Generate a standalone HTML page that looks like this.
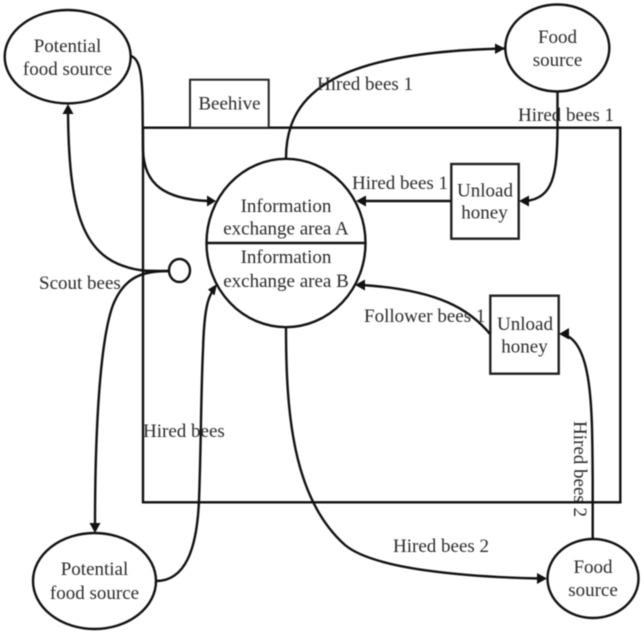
<!DOCTYPE html>
<html><head><meta charset="utf-8">
<style>html,body{margin:0;padding:0;background:#fff}svg{display:block;filter:blur(.45px)}
text{font-family:"Liberation Serif",serif;font-size:19px;fill:#2a2a2a}
.m{text-anchor:middle}
.s{fill:none;stroke:#111;stroke-width:2.4}
.a{fill:#111;stroke:none}</style></head><body>
<svg width="644" height="634" viewBox="0 0 644 634" xmlns="http://www.w3.org/2000/svg">
<rect class="s" x="143" y="127.7" width="477.3" height="374.6"/>
<rect x="190" y="79.7" width="78.7" height="48" fill="#fff" stroke="#222" stroke-width="2"/>
<rect x="451.3" y="164" width="67.4" height="74.7" fill="#fff" stroke="#222" stroke-width="2.4"/>
<rect x="490.3" y="295.7" width="68.4" height="78" fill="#fff" stroke="#222" stroke-width="2.4"/>
<ellipse class="s" cx="67.7" cy="56.7" rx="63" ry="46.7"/>
<ellipse class="s" cx="557.3" cy="48" rx="52" ry="43.500"/>
<ellipse class="s" cx="94.500" cy="581" rx="61.500" ry="48"/>
<ellipse class="s" cx="593" cy="578.500" rx="45.500" ry="39.500"/>
<ellipse class="s" cx="286" cy="243" rx="79.500" ry="84.200"/>
<line class="s" x1="206.500" y1="243" x2="365.500" y2="243"/>
<ellipse class="s" cx="179.500" cy="270.500" rx="10.500" ry="11.500"/>

<path class="s" d="M131 56C140 59 142 75 142.500 100L143 150C144 185 165 199 208 201"/>
<path class="a" d="M216 201L207 195.500V206.500Z"/>
<path class="s" d="M169 271C155 271 147 271 143 270.500C85 263 69 220 68 112"/>
<path class="a" d="M68 104L62.500 114H73.500Z"/>
<path class="s" d="M169 271C145 271 125 275 113 305C100 340 95 430 95 526"/>
<path class="a" d="M95 533L89.500 523H100.500Z"/>
<path class="s" d="M156 581C185 581 197 550 199 500C201 450 201 390 203 350C204 315 207 298 213 291"/>
<path class="a" d="M217 284L208 289.500L214.500 295.500Z"/>
<path class="s" d="M286 158C286 90 340 52 505 48.500"/>
<path class="a" d="M505 48.500L495 43.500V54Z"/>
<path class="s" d="M557.500 92V130C557 175 553 198 526 201"/>
<path class="a" d="M519 201L529 195.500V206.500Z"/>
<path class="s" d="M451 201H362"/>
<path class="a" d="M356 201L366 195.500V206.500Z"/>
<path class="s" d="M490 334C470 310 440 290 362 285"/>
<path class="a" d="M355 285L365 279.500V290.500Z"/>
<path class="s" d="M592.700 539V480C592 420 594 345 565 335"/>
<path class="a" d="M559 334L569 328V339.500Z"/>
<path class="s" d="M286 327C286 410 292 498 345 545C375 570 470 577 540 578.500"/>
<path class="a" d="M547 578.500L537 573V584Z"/>

<text class="m" x="67.500" y="52">Potential</text>
<text class="m" x="67.500" y="75">food source</text>
<text class="m" x="229.500" y="109.500">Beehive</text>
<text class="m" x="557.500" y="43">Food</text>
<text class="m" x="557.500" y="66">source</text>
<text x="317" y="90">Hired bees 1</text>
<text x="518" y="121">Hired bees 1</text>
<text x="352" y="189">Hired bees 1</text>
<text class="m" x="485" y="196.500">Unload</text>
<text class="m" x="484.500" y="218.500">honey</text>
<text class="m" x="286" y="212">Information</text>
<text class="m" x="286" y="234.500">exchange area A</text>
<text class="m" x="286" y="263">Information</text>
<text class="m" x="286" y="287">exchange area B</text>
<text x="39" y="289">Scout bees</text>
<text x="364" y="322">Follower bees 1</text>
<text class="m" x="525" y="330">Unload</text>
<text class="m" x="524.500" y="352.500">honey</text>
<text x="143" y="437">Hired bees</text>
<text x="393" y="552">Hired bees 2</text>
<text transform="translate(574 421) rotate(90)">Hired bees 2</text>
<text class="m" x="94.500" y="575">Potential</text>
<text class="m" x="94.500" y="599">food source</text>
<text class="m" x="593" y="573">Food</text>
<text class="m" x="593" y="596">source</text>
</svg>
</body></html>
